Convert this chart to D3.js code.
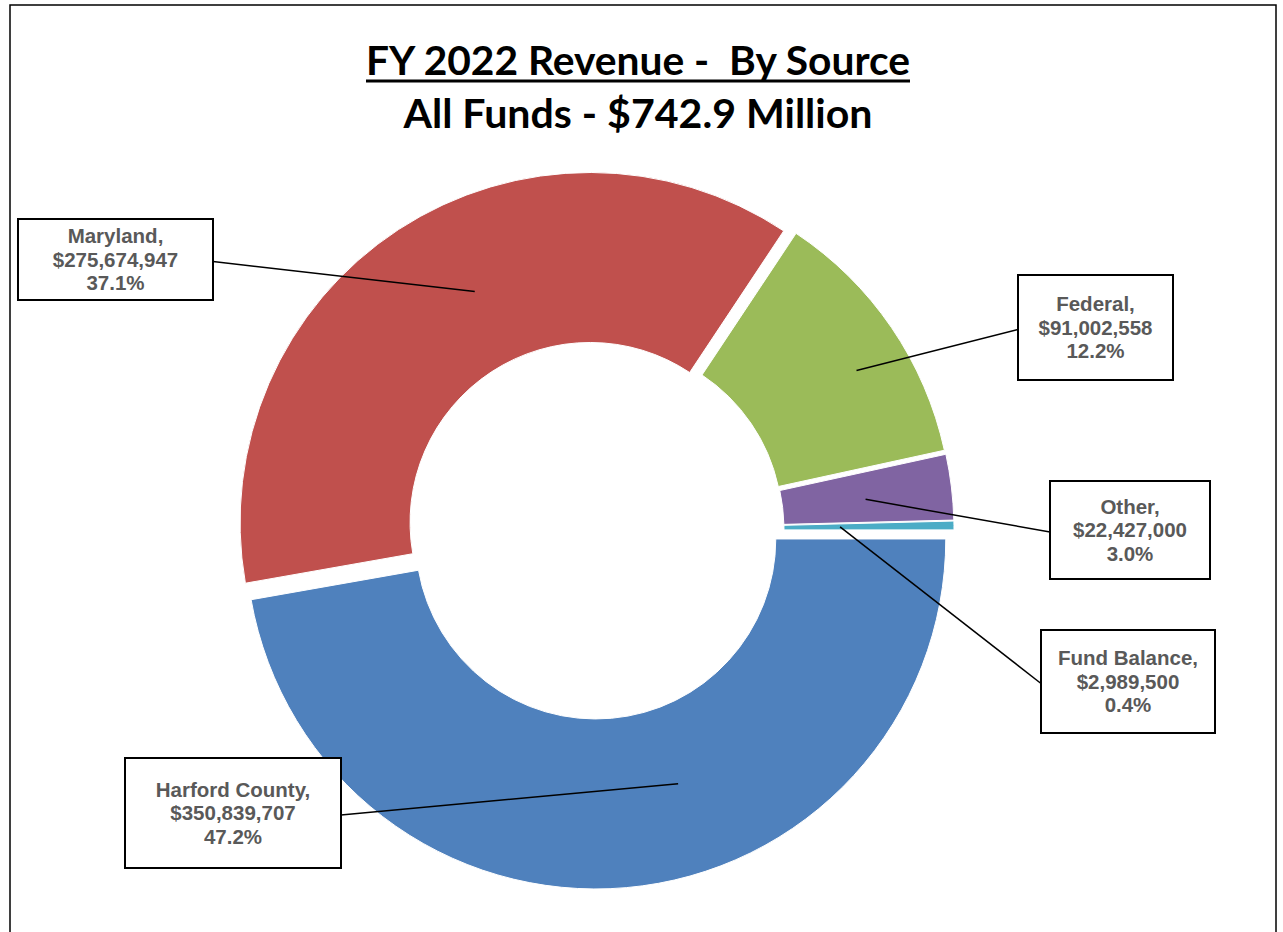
<!DOCTYPE html>
<html>
<head>
<meta charset="utf-8">
<script src="https://cdn.jsdelivr.net/npm/d3@7"></script>
<style>
  html, body { margin: 0; padding: 0; background: #fff; }
  svg { display: block; }
</style>
</head>
<body>
<svg id="chart" width="1283" height="932"></svg>
<script>
// ── data ──
const sources = ['Harford County', 'Maryland', 'Federal', 'Other', 'Fund Balance'];
const amounts = [350839707, 275674947, 91002558, 22427000, 2989500];
const colors = ['#4F81BD', '#C0504D', '#9BBB59', '#8064A2', '#4BACC6'];
const titleLines = ['FY 2022 Revenue -  By Source', 'All Funds - $742.9 Million'];

// ── layout: label boxes [x, y, w, h], leader anchor [t along slice, u across ring], side of box
const boxes = [[125, 758, 216, 110], [18, 219, 195, 81], [1018, 275, 155, 105], [1050, 481, 160, 98], [1041, 630, 174, 103]];
const anchors = [[0.42, 0.46], [0.55, 0.46], [0.57, 0.69], [0.54, 0.49], [0.5, 0.33]];
const sides = ['right', 'right', 'left', 'left', 'left'];

const W = 1283, H = 932;
const cx = 595, cy = 530, R = 350, r = 180, explode = 9;

const svg = d3.select('#chart');

// frame
svg.append('rect')
  .attr('x', 10).attr('y', 5).attr('width', 1266).attr('height', H + 10)
  .attr('fill', 'none').attr('stroke', '#000').attr('stroke-width', 1.5);

// title
svg.append('text')
  .attr('x', 638).attr('y', 75)
  .attr('text-anchor', 'middle')
  .attr('font-family', 'Lato, "Open Sans", sans-serif')
  .attr('font-weight', 700).attr('font-size', 41)
  .attr('textLength', 544).attr('lengthAdjust', 'spacingAndGlyphs')
  .style('white-space', 'pre')
  .text(titleLines[0]);
svg.append('line')
  .attr('x1', 366).attr('x2', 910).attr('y1', 81).attr('y2', 81)
  .attr('stroke', '#000').attr('stroke-width', 3);
svg.append('text')
  .attr('x', 638).attr('y', 128)
  .attr('text-anchor', 'middle')
  .attr('font-family', 'Lato, "Open Sans", sans-serif')
  .attr('font-weight', 700).attr('font-size', 41)
  .attr('textLength', 469).attr('lengthAdjust', 'spacingAndGlyphs')
  .text(titleLines[1]);

// donut
const total = d3.sum(amounts);
const pct = d3.format('.1%');
const money = d3.format('$,');

const pie = d3.pie().sort(null).value((d) => d)
  .startAngle(Math.PI / 2).endAngle(Math.PI / 2 + 2 * Math.PI);
const arcs = pie(amounts);
const arc = d3.arc().innerRadius(r).outerRadius(R);

function shift(a) {
  const mid = (a.startAngle + a.endAngle) / 2;
  return [Math.sin(mid) * explode, -Math.cos(mid) * explode];
}

const g = svg.append('g').attr('transform', `translate(${cx},${cy})`);
g.selectAll('path.slice').data(arcs).enter().append('path')
  .attr('class', 'slice')
  .attr('transform', (d) => `translate(${shift(d)})`)
  .attr('d', arc)
  .attr('fill', (d, i) => colors[i])
  .attr('stroke', '#fff').attr('stroke-width', 1);

// leaders
function anchorPt(a, i) {
  const [t, u] = anchors[i];
  const ang = a.startAngle + t * (a.endAngle - a.startAngle);
  const rad = r + u * (R - r);
  const [sx, sy] = shift(a);
  return [cx + sx + Math.sin(ang) * rad, cy + sy - Math.cos(ang) * rad];
}

arcs.forEach((a, i) => {
  const [bx, by, bw, bh] = boxes[i];
  const p = anchorPt(a, i);
  const ex = sides[i] === 'right' ? bx + bw : bx;
  svg.append('line')
    .attr('x1', ex).attr('y1', by + bh / 2 + 2)
    .attr('x2', p[0]).attr('y2', p[1])
    .attr('stroke', '#000').attr('stroke-width', 1.5);
});

// label boxes
arcs.forEach((a, i) => {
  const [bx, by, bw, bh] = boxes[i];
  svg.append('rect')
    .attr('x', bx).attr('y', by).attr('width', bw).attr('height', bh)
    .attr('fill', '#fff').attr('stroke', '#000').attr('stroke-width', 2);
  const lines = [sources[i] + ',', money(amounts[i]), pct(amounts[i] / total)];
  const txt = svg.append('text')
    .attr('text-anchor', 'middle')
    .attr('font-family', '"Liberation Sans", Arial, sans-serif')
    .attr('font-weight', 700).attr('font-size', 20.5)
    .attr('fill', '#595959');
  lines.forEach((s, k) => {
    txt.append('tspan')
      .attr('x', bx + bw / 2)
      .attr('y', by + bh / 2 + 7 + (k - 1) * 23.5)
      .text(s);
  });
});
</script>
</body>
</html>
